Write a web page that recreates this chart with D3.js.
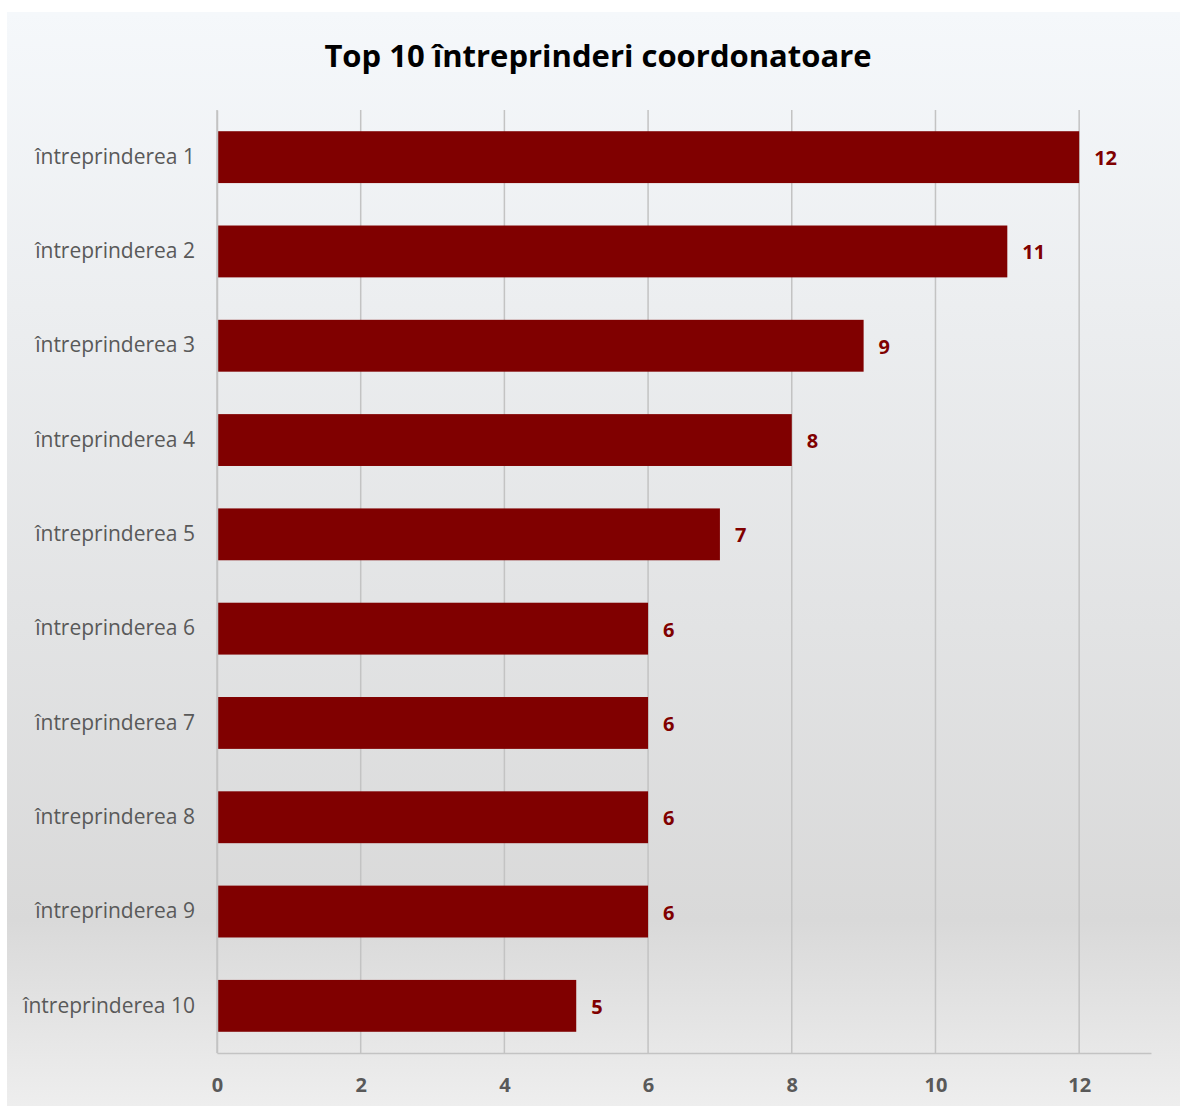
<!DOCTYPE html>
<html>
<head>
<meta charset="utf-8">
<script src="https://cdn.jsdelivr.net/npm/d3@7"></script>
<style>
  body { margin: 0; background: #fff; }
  svg { display: block; }
</style>
</head>
<body>
<script>
// chart data
var categories = ["întreprinderea 1", "întreprinderea 2", "întreprinderea 3", "întreprinderea 4",
                  "întreprinderea 5", "întreprinderea 6", "întreprinderea 7", "întreprinderea 8",
                  "întreprinderea 9", "întreprinderea 10"];
var values = [12, 11, 9, 8, 7, 6, 6, 6, 6, 5];
var xTicks = [0, 2, 4, 6, 8, 10, 12];
var title = "Top 10 întreprinderi coordonatoare";

var width = 1180, height = 1106;
var font = "'Open Sans', sans-serif";

var svg = d3.select("body").append("svg")
    .attr("width", width)
    .attr("height", height);

// background gradient
var grad = svg.append("defs").append("linearGradient")
    .attr("id", "bg").attr("x1", 0).attr("y1", 0).attr("x2", 0).attr("y2", 1);
grad.append("stop").attr("offset", "0%").attr("stop-color", "#f5f8fb");
grad.append("stop").attr("offset", "83%").attr("stop-color", "#d9d9d9");
grad.append("stop").attr("offset", "100%").attr("stop-color", "#eeeeee");

svg.append("rect")
    .attr("x", 7).attr("y", 12)
    .attr("width", width - 7).attr("height", height - 12)
    .attr("fill", "url(#bg)");

var x = d3.scaleLinear().domain([0, 13]).range([217, 1151]);
var y = d3.scaleBand().domain(categories).range([110, 1053]).paddingInner(0.45).paddingOuter(0.225);

// gridlines
svg.append("g").selectAll("line")
    .data(xTicks)
    .enter()
    .append("line")
    .attr("x1", function(d) { return x(d); })
    .attr("x2", function(d) { return x(d); })
    .attr("y1", 110)
    .attr("y2", 1053)
    .attr("stroke", "#c3c3c3")
    .attr("stroke-width", 1.5);

// bars
svg.append("g").selectAll("rect")
    .data(values)
    .enter()
    .append("rect")
    .attr("x", x(0))
    .attr("y", function(d, i) { return y(categories[i]); })
    .attr("width", function(d) { return x(d) - x(0); })
    .attr("height", y.bandwidth())
    .attr("fill", "#800000");

// value labels
svg.append("g").selectAll("text")
    .data(values)
    .enter()
    .append("text")
    .attr("x", function(d) { return x(d) + 15; })
    .attr("y", function(d, i) { return y(categories[i]) + y.bandwidth() / 2 + 1; })
    .attr("dy", "0.35em")
    .attr("font-family", font)
    .attr("font-size", 20)
    .attr("font-weight", "bold")
    .attr("fill", "#800000")
    .text(function(d) { return d; });

// y axis
var yAxis = svg.append("g")
    .attr("transform", "translate(" + x(0) + ",0)")
    .call(d3.axisLeft(y).tickSize(0).tickPadding(22));
yAxis.select(".domain").attr("stroke", "#c3c3c3").attr("stroke-width", 1.5);
yAxis.selectAll("text")
    .attr("font-family", font)
    .attr("font-size", 21)
    .attr("fill", "#595959");

// x axis
var xAxis = svg.append("g")
    .attr("transform", "translate(0,1053)")
    .call(d3.axisBottom(x).tickValues(xTicks).tickSize(0).tickPadding(25).tickSizeOuter(0));
xAxis.select(".domain").attr("stroke", "#c3c3c3").attr("stroke-width", 1.5);
xAxis.selectAll("text")
    .attr("font-family", font)
    .attr("font-size", 20)
    .attr("font-weight", "bold")
    .attr("fill", "#595959");

// title
svg.append("text")
    .attr("x", 598)
    .attr("y", 67)
    .attr("text-anchor", "middle")
    .attr("font-family", font)
    .attr("font-size", 31)
    .attr("font-weight", "bold")
    .attr("fill", "#000")
    .text(title);
</script>
</body>
</html>
